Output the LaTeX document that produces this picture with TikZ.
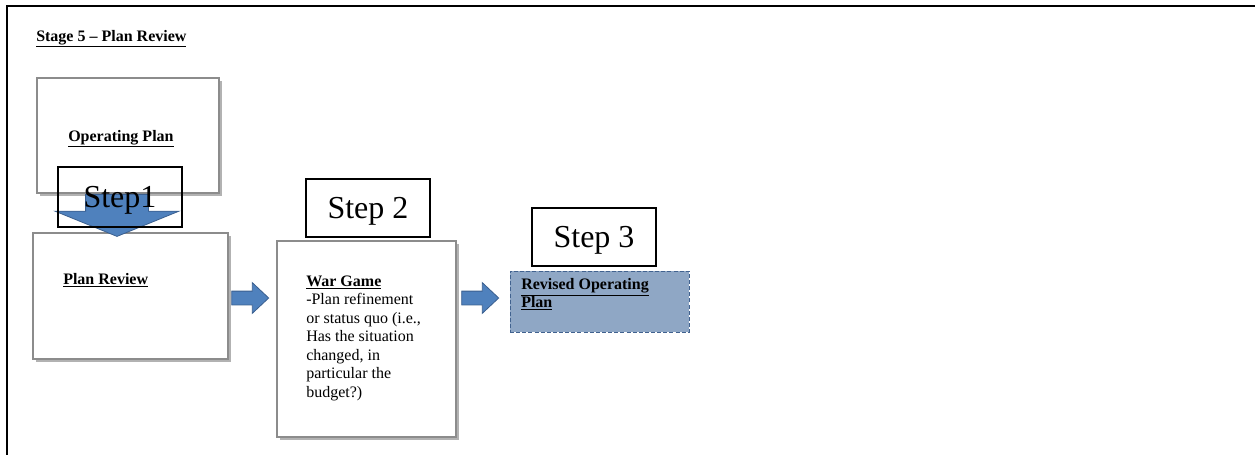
\documentclass[tikz,border=0pt]{standalone}
\usepackage{fontspec}
\setmainfont{Liberation Serif}
\usetikzlibrary{shapes.arrows,fit,calc,shadows}
\definecolor{boxgray}{HTML}{8C8C8C}
\definecolor{arrowfill}{HTML}{4F81BD}
\definecolor{arrowline}{HTML}{3A5F8F}
\definecolor{revfill}{HTML}{8FA7C5}
\definecolor{revline}{HTML}{41628F}
\begin{document}
\begin{tikzpicture}[x=0.75pt,y=-0.75pt,
  panel/.style={draw=boxgray, line width=1.5pt, fill=white, inner sep=0pt,
    drop shadow={shadow xshift=2.2pt, shadow yshift=-2.2pt, opacity=0.3, fill=black}},
  tagbox/.style={draw=black, line width=0.9pt, inner sep=0pt},
  caption/.style={inner sep=0pt, font=\fontsize{12}{13.9}\selectfont},
  steptext/.style={inner sep=0pt, anchor=base, font=\fontsize{24}{28}\selectfont},
  blockarrow/.style={single arrow, fill=arrowfill, draw=arrowline, line width=0.6pt,
    inner xsep=0pt, minimum width=0pt, single arrow head indent=0pt}
]
\useasboundingbox (0,0) rectangle (1255,454);
\clip (0,0) rectangle (1255,454);

% page frame
\draw[line width=1.5pt] (7,470) -- (7,6) -- (1270,6);

% title
\node[caption, anchor=base west, font=\bfseries\fontsize{12}{13.9}\selectfont] (title) at (36,41)
  {\underline{Stage 5 – Plan Review}};

% panels
\node[panel, fit={(33,233)(228,359)}] (pr) {};
\node[panel, fit={(37,78)(219,193)}] (op) {};
\node[panel, fit={(277,241)(456,437)}] (wg) {};
\node[fit={(510,271)(689,332)}, inner sep=0pt, fill=revfill, draw=revline,
  line width=0.75pt, dash pattern=on 3pt off 1.6pt] (rv) {};

% block arrows between the stages
\node[blockarrow, rotate=-90, minimum height=31.5pt, inner ysep=23.25pt,
  single arrow head extend=22.9pt, single arrow tip angle=135.7] (a1) at (117,209) {};
\node[blockarrow, minimum height=27.75pt, inner ysep=4.875pt,
  single arrow head extend=6.375pt, single arrow tip angle=86.3] (a2) at (246.5,298) {};
\node[blockarrow, minimum height=27.75pt, inner ysep=4.875pt,
  single arrow head extend=6.375pt, single arrow tip angle=86.3] (a3) at (476.5,298) {};

% step tags
\node[tagbox, fit={(58,167)(182,227)}] (s1) {};
\node[tagbox, fill=white, fit={(306,179)(430,237)}] (s2) {};
\node[tagbox, fill=white, fit={(532,208)(656,266)}] (s3) {};
\node[steptext] (s1t) at ($(s1.center)+(0,10.5)$) {Step1};
\node[steptext] (s2t) at ($(s2.center)+(0,10.5)$) {Step 2};
\node[steptext] (s3t) at ($(s3.center)+(0,10.5)$) {Step 3};

% panel texts
\node[caption, anchor=base west, font=\bfseries\fontsize{12}{13.9}\selectfont] (opt) at (68,141)
  {\underline{Operating Plan}};
\node[caption, anchor=base west, font=\bfseries\fontsize{12}{13.9}\selectfont] (prt) at (63,284)
  {\underline{Plan Review}};
\node[caption, anchor=north west, align=left] (wgt) at (306,275.4)
  {\textbf{\underline{War Game}}\\-Plan refinement\\or status quo (i.e.,\\Has the situation\\changed, in\\particular the\\budget?)};
\node[caption, anchor=north west, align=left, font=\bfseries\fontsize{12}{13.5}\selectfont] (rvt) at (521,278.2)
  {\underline{Revised Operating}\\\underline{Plan}};
\end{tikzpicture}
\end{document}
